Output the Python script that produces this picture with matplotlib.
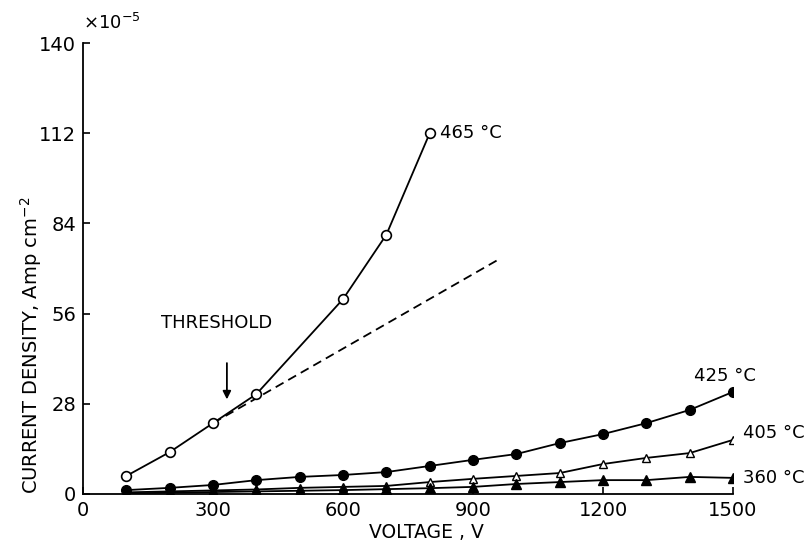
import numpy as np
import matplotlib.pyplot as plt

plt.rc("font", family="DejaVu Sans", size=13)

# voltage (V) and current density (x1e-5 Amp cm^-2)
v_465 = [100, 200, 300, 400, 600, 700, 800]
j_465 = [5.6, 13.0, 22.0, 31.0, 60.5, 80.5, 112.0]

v_all = [100, 200, 300, 400, 500, 600, 700, 800, 900, 1000, 1100, 1200, 1300, 1400, 1500]
j_425 = [1.2, 1.9, 2.8, 4.3, 5.3, 5.9, 6.8, 8.7, 10.6, 12.4, 15.8, 18.6, 22.0, 26.1, 31.7]
j_405 = [0.5, 0.8, 1.1, 1.4, 1.9, 2.2, 2.5, 3.7, 4.7, 5.6, 6.5, 9.3, 11.2, 12.7, 16.8]
j_360 = [0.2, 0.4, 0.6, 0.8, 1.0, 1.2, 1.5, 1.8, 2.2, 3.1, 3.7, 4.3, 4.3, 5.3, 5.0]

# linear extrapolation drawn as dashed line
v_dash = [300, 955]
j_dash = [22.0, 72.5]

xticks = [0, 300, 600, 900, 1200, 1500]
yticks = [0, 28, 56, 84, 112, 140]

fig = plt.figure(figsize=(8.1, 5.42), dpi=100)
ax = fig.add_axes([0.1025, 0.0886, 0.8025, 0.832])

ax.plot(v_465, j_465, color="black", lw=1.3, marker="o", ms=7,
        mfc="white", mec="black", mew=1.2, zorder=3)
ax.plot(v_dash, j_dash, color="black", lw=1.3, ls=(0, (5, 3)))
ax.plot(v_all, j_425, color="black", lw=1.3, marker="o", ms=7,
        mfc="black", mec="black", zorder=3)
ax.plot(v_all, j_405, color="black", lw=1.3, marker="^", ms=6,
        mfc="white", mec="black", mew=1.0, zorder=3)
ax.plot(v_all, j_360, color="black", lw=1.3, marker="^", ms=7,
        mfc="black", mec="black", zorder=3)

ax.text(823, 112, "465 °C", fontsize=13, va="center", ha="left")
ax.text(1410, 36.5, "425 °C", fontsize=13, va="center", ha="left")
ax.text(1522, 19, "405 °C", fontsize=13, va="center", ha="left")
ax.text(1522, 5, "360 °C", fontsize=13, va="center", ha="left")

ax.text(308, 53, "THRESHOLD", fontsize=13, va="center", ha="center")
ax.annotate("", xy=(332, 28.5), xytext=(332, 41.5),
            arrowprops=dict(arrowstyle="-|>", color="black", lw=1.3, mutation_scale=12))

ax.set_xlim(0, 1500)
ax.set_ylim(0, 140)
ax.set_xticks(xticks)
ax.set_yticks(yticks)
ax.spines["right"].set_visible(False)
ax.spines["top"].set_visible(False)
ax.spines["left"].set_linewidth(1.3)
ax.spines["bottom"].set_linewidth(1.3)
ax.tick_params(axis="y", direction="in", length=5, width=1.2, labelsize=14, pad=5)
ax.tick_params(axis="x", direction="in", length=5, width=1.2, labelsize=14, pad=5)

ax.text(0, 143, r"$\times$10$^{-5}$", fontsize=13, ha="left", va="bottom",
        transform=ax.transData, clip_on=False)

ax.set_xlabel("VOLTAGE , V", fontsize=13.5)
ax.set_ylabel("CURRENT DENSITY, Amp cm$^{-2}$", fontsize=14)
ax.xaxis.set_label_coords(0.528, -0.064)
ax.yaxis.set_label_coords(-0.06, 0.33)

fig.savefig("out.png", dpi=100)
